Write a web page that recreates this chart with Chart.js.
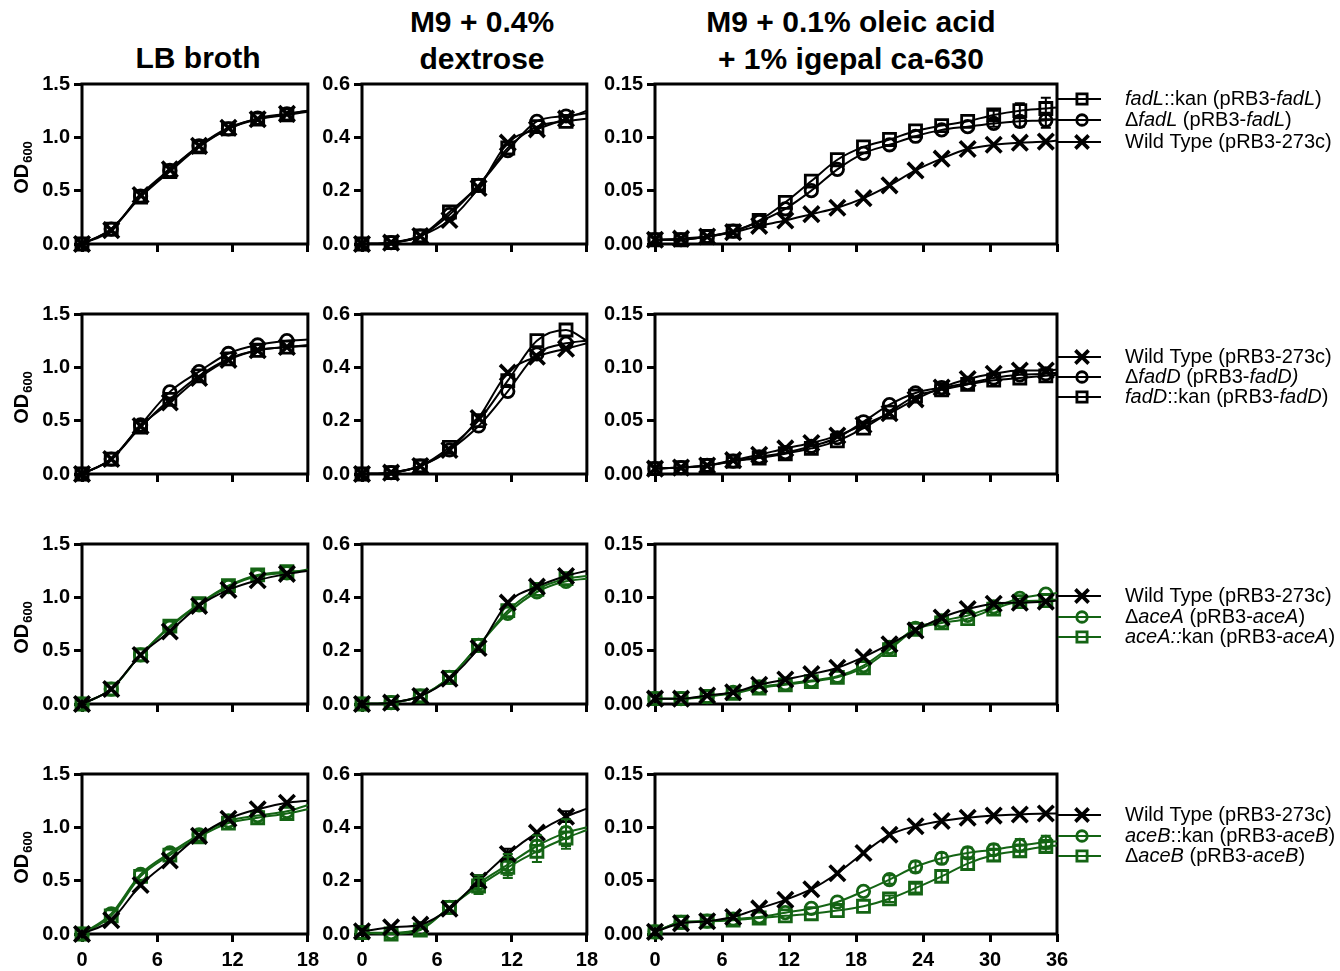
<!DOCTYPE html>
<html lang="en">
<head>
<meta charset="UTF-8">
<title>Growth curves</title>
<script src="https://cdn.jsdelivr.net/npm/chart.js"></script>
<style>
    body { margin: 0; background: #fff; width: 1340px; height: 971px; position: relative; overflow: hidden;
           font-family: "Liberation Sans", Arial, sans-serif; }
    .title { position: absolute; width: 400px; text-align: center; font-weight: bold; font-size: 30px; line-height: 37px; }
    .panel { position: absolute; }
</style>
</head>
<body>
<div class="title" style="left:-2px; top:39px">LB broth</div>
<div class="title" style="left:282px; top:3px">M9 + 0.4%<br>dextrose</div>
<div class="title" style="left:651px; top:3px">M9 + 0.1% oleic acid<br>+ 1% igepal ca-630</div>
<script>
// sampling times (h); last entry is where the fitted curve meets the right frame
const T_SHORT = [0, 2.33, 4.67, 7, 9.33, 11.67, 14, 16.33, 18];
const T_LONG = [0, 2.33, 4.67, 7, 9.33, 11.67, 14, 16.33, 18.67, 21, 23.33, 25.67, 28, 30.33, 32.67, 35, 36];

// row 1 - fadL
const FADL_KAN_LB = [0, 0.14, 0.44, 0.68, 0.91, 1.08, 1.17, 1.21, 1.24];
const FADL_DEL_LB = [0, 0.14, 0.45, 0.69, 0.92, 1.08, 1.18, 1.22, 1.25];
const FADL_WT_LB  = [0, 0.13, 0.46, 0.70, 0.92, 1.09, 1.17, 1.22, 1.25];
const FADL_KAN_M9 = [0, 0.005, 0.03, 0.12, 0.22, 0.36, 0.44, 0.46, 0.47];
const FADL_DEL_M9 = [0, 0.005, 0.03, 0.11, 0.22, 0.35, 0.46, 0.48, 0.49];
const FADL_WT_M9  = [0, 0.005, 0.03, 0.09, 0.21, 0.38, 0.43, 0.47, 0.50];
const FADL_KAN_OL = [0.004, 0.004, 0.007, 0.012, 0.022, 0.039, 0.059, 0.079, 0.091, 0.098, 0.106, 0.111, 0.115, 0.121, 0.125, 0.127, 0.128];
const FADL_DEL_OL = [0.004, 0.004, 0.007, 0.012, 0.021, 0.033, 0.050, 0.070, 0.085, 0.093, 0.101, 0.107, 0.110, 0.113, 0.115, 0.116, 0.117];
const FADL_WT_OL  = [0.004, 0.005, 0.007, 0.011, 0.017, 0.022, 0.028, 0.034, 0.043, 0.055, 0.069, 0.080, 0.089, 0.093, 0.095, 0.096, 0.097];
const FADL_KAN_OL_ERR = [0, 0, 0, 0, 0, 0, 0, 0, 0, 0, 0, 0, 0, 0.004, 0.007, 0.010, 0];
const FADL_DEL_OL_ERR = [0, 0, 0, 0, 0, 0, 0, 0, 0, 0, 0, 0, 0, 0.003, 0.005, 0.007, 0];

// row 2 - fadD
const FADD_WT_LB  = [0, 0.14, 0.45, 0.67, 0.90, 1.07, 1.16, 1.19, 1.21];
const FADD_DEL_LB = [0, 0.14, 0.46, 0.77, 0.96, 1.13, 1.21, 1.25, 1.26];
const FADD_KAN_LB = [0, 0.14, 0.44, 0.70, 0.92, 1.08, 1.16, 1.19, 1.20];
const FADD_WT_M9  = [0, 0.005, 0.03, 0.09, 0.21, 0.38, 0.44, 0.47, 0.49];
const FADD_DEL_M9 = [0, 0.005, 0.03, 0.09, 0.18, 0.31, 0.45, 0.49, 0.50];
const FADD_KAN_M9 = [0, 0.005, 0.03, 0.10, 0.20, 0.35, 0.50, 0.54, 0.50];
const FADD_WT_OL  = [0.005, 0.006, 0.008, 0.013, 0.018, 0.024, 0.029, 0.036, 0.046, 0.057, 0.070, 0.081, 0.089, 0.094, 0.097, 0.097, 0.098];
const FADD_DEL_OL = [0.005, 0.006, 0.008, 0.012, 0.016, 0.020, 0.026, 0.034, 0.049, 0.065, 0.076, 0.081, 0.085, 0.090, 0.093, 0.094, 0.095];
const FADD_KAN_OL = [0.005, 0.006, 0.008, 0.012, 0.015, 0.019, 0.024, 0.031, 0.043, 0.058, 0.073, 0.079, 0.084, 0.088, 0.090, 0.092, 0.093];

// row 3 - aceA
const ACEA_WT_LB  = [0, 0.14, 0.46, 0.68, 0.92, 1.07, 1.16, 1.22, 1.25];
const ACEA_DEL_LB = [0, 0.14, 0.46, 0.72, 0.93, 1.10, 1.20, 1.23, 1.26];
const ACEA_KAN_LB = [0, 0.14, 0.46, 0.73, 0.94, 1.11, 1.21, 1.24, 1.25];
const ACEA_WT_M9  = [0, 0.005, 0.03, 0.095, 0.21, 0.38, 0.44, 0.48, 0.50];
const ACEA_DEL_M9 = [0, 0.005, 0.03, 0.10, 0.22, 0.34, 0.42, 0.46, 0.47];
const ACEA_KAN_M9 = [0, 0.005, 0.03, 0.10, 0.22, 0.35, 0.43, 0.47, 0.48];
const ACEA_WT_OL  = [0.005, 0.005, 0.008, 0.011, 0.018, 0.023, 0.028, 0.034, 0.044, 0.056, 0.069, 0.081, 0.089, 0.094, 0.095, 0.096, 0.097];
const ACEA_DEL_OL = [0.005, 0.005, 0.007, 0.011, 0.016, 0.019, 0.022, 0.026, 0.036, 0.053, 0.071, 0.078, 0.083, 0.091, 0.099, 0.103, 0.104];
const ACEA_KAN_OL = [0.005, 0.005, 0.007, 0.010, 0.015, 0.018, 0.021, 0.025, 0.034, 0.051, 0.070, 0.076, 0.080, 0.089, 0.096, 0.097, 0.098];

// row 4 - aceB
const ACEB_WT_LB  = [0, 0.13, 0.46, 0.69, 0.92, 1.08, 1.17, 1.23, 1.25];
const ACEB_KAN_LB = [0, 0.19, 0.56, 0.76, 0.93, 1.06, 1.11, 1.15, 1.21];
const ACEB_DEL_LB = [0, 0.17, 0.54, 0.74, 0.91, 1.04, 1.09, 1.13, 1.17];
const ACEB_WT_M9  = [0.01, 0.025, 0.035, 0.095, 0.20, 0.30, 0.38, 0.44, 0.47];
const ACEB_KAN_M9 = [0.005, 0.005, 0.02, 0.10, 0.19, 0.26, 0.33, 0.38, 0.40];
const ACEB_DEL_M9 = [0.005, 0.0, 0.015, 0.10, 0.18, 0.25, 0.31, 0.36, 0.39];
const ACEB_WT_M9_ERR  = [0, 0, 0, 0, 0.02, 0.02, 0, 0.02, 0];
const ACEB_KAN_M9_ERR = [0, 0, 0, 0, 0.03, 0.04, 0.04, 0.05, 0];
const ACEB_DEL_M9_ERR = [0, 0, 0, 0, 0.03, 0.04, 0.04, 0.04, 0];
const ACEB_WT_OL  = [0.002, 0.010, 0.012, 0.016, 0.024, 0.032, 0.042, 0.057, 0.076, 0.093, 0.101, 0.106, 0.109, 0.111, 0.112, 0.113, 0.113];
const ACEB_KAN_OL = [0.002, 0.011, 0.012, 0.014, 0.016, 0.020, 0.024, 0.030, 0.040, 0.051, 0.063, 0.071, 0.076, 0.079, 0.083, 0.086, 0.087];
const ACEB_DEL_OL = [0.002, 0.011, 0.012, 0.013, 0.015, 0.017, 0.019, 0.022, 0.026, 0.033, 0.043, 0.054, 0.066, 0.074, 0.078, 0.082, 0.083];
const ACEB_KAN_OL_ERR = [0, 0, 0, 0, 0, 0, 0, 0, 0, 0.004, 0.005, 0.005, 0.005, 0.005, 0.006, 0.006, 0];
const ACEB_DEL_OL_ERR = [0, 0, 0, 0, 0, 0, 0, 0, 0, 0.003, 0.004, 0.005, 0.005, 0.005, 0.005, 0.005, 0];

const BLACK = '#000';
const GREEN = '#146414';

// *text* = italic
const ROWS = [
    [
        { label: '*fadL*::kan (pRB3-*fadL*)', mark: 'square', color: BLACK, data: [FADL_KAN_LB, FADL_KAN_M9, FADL_KAN_OL], err: [null, null, FADL_KAN_OL_ERR] },
        { label: 'Δ*fadL* (pRB3-*fadL*)', mark: 'circle', color: BLACK, data: [FADL_DEL_LB, FADL_DEL_M9, FADL_DEL_OL], err: [null, null, FADL_DEL_OL_ERR] },
        { label: 'Wild Type (pRB3-273c)', mark: 'cross', color: BLACK, data: [FADL_WT_LB, FADL_WT_M9, FADL_WT_OL], err: [] }
    ],
    [
        { label: 'Wild Type (pRB3-273c)', mark: 'cross', color: BLACK, data: [FADD_WT_LB, FADD_WT_M9, FADD_WT_OL], err: [] },
        { label: 'Δ*fadD* (pRB3-*fadD)*', mark: 'circle', color: BLACK, data: [FADD_DEL_LB, FADD_DEL_M9, FADD_DEL_OL], err: [] },
        { label: '*fadD*::kan (pRB3-*fadD*)', mark: 'square', color: BLACK, data: [FADD_KAN_LB, FADD_KAN_M9, FADD_KAN_OL], err: [] }
    ],
    [
        { label: 'Wild Type (pRB3-273c)', mark: 'cross', color: BLACK, data: [ACEA_WT_LB, ACEA_WT_M9, ACEA_WT_OL], err: [] },
        { label: 'Δ*aceA* (pRB3-*aceA*)', mark: 'circle', color: GREEN, data: [ACEA_DEL_LB, ACEA_DEL_M9, ACEA_DEL_OL], err: [] },
        { label: '*aceA::*kan (pRB3-*aceA*)', mark: 'square', color: GREEN, data: [ACEA_KAN_LB, ACEA_KAN_M9, ACEA_KAN_OL], err: [] }
    ],
    [
        { label: 'Wild Type (pRB3-273c)', mark: 'cross', color: BLACK, data: [ACEB_WT_LB, ACEB_WT_M9, ACEB_WT_OL], err: [null, ACEB_WT_M9_ERR, null] },
        { label: '*aceB*::kan (pRB3-*aceB*)', mark: 'circle', color: GREEN, data: [ACEB_KAN_LB, ACEB_KAN_M9, ACEB_KAN_OL], err: [null, ACEB_KAN_M9_ERR, ACEB_KAN_OL_ERR] },
        { label: 'Δ*aceB* (pRB3-*aceB*)', mark: 'square', color: GREEN, data: [ACEB_DEL_LB, ACEB_DEL_M9, ACEB_DEL_OL], err: [null, ACEB_DEL_M9_ERR, ACEB_DEL_OL_ERR] }
    ]
];

// layout
const COLS = [
    { L: 82, R: 313, yw: 82, pr: 12, xmax: 18, ymax: 1.5, step: 0.5, dec: 1, t: T_SHORT },
    { L: 362, R: 592, yw: 50, pr: 12, xmax: 18, ymax: 0.6, step: 0.2, dec: 1, t: T_SHORT },
    { L: 655, R: 1057, yw: 62, pr: 283, xmax: 36, ymax: 0.15, step: 0.05, dec: 2, t: T_LONG }
];
const ROW_TOP = [82, 312, 542, 772];
const LEGEND_DY = [[15, 36, 58], [43, 63, 83], [52, 73, 93], [41, 62, 82]];
const PLOT_H = 162, PAD_T = 14, XH = 42;
const MARK = {
    square: { style: 'rect', r: 8.5, w: 2.8 },
    circle: { style: 'circle', r: 6.2, w: 2.8 },
    cross:  { style: 'crossRot', r: 11, w: 3.6 }
};
const FONT = '"Liberation Sans", Arial, sans-serif';

function drawMarker(ctx, mark, x, y, scale) {
    const m = MARK[mark], r = m.r * scale;
    ctx.beginPath();
    if (mark === 'square') {
        const s = r * Math.SQRT1_2;
        ctx.rect(x - s, y - s, 2 * s, 2 * s);
    } else if (mark === 'circle') {
        ctx.arc(x, y, r, 0, Math.PI * 2);
    } else {
        const d = r * Math.SQRT1_2;
        ctx.moveTo(x - d, y - d); ctx.lineTo(x + d, y + d);
        ctx.moveTo(x - d, y + d); ctx.lineTo(x + d, y - d);
    }
    ctx.lineWidth = m.w;
    ctx.stroke();
}

const framePlugin = {
    id: 'frame',
    beforeDatasetsDraw(c) {
        const a = c.chartArea, ctx = c.ctx;
        ctx.save();
        ctx.lineWidth = 3;
        ctx.strokeStyle = '#000';
        ctx.strokeRect(a.left, a.top, a.right - a.left, a.bottom - a.top);
        ctx.restore();
    }
};

const errorPlugin = {
    id: 'errbars',
    afterDatasetsDraw(c) {
        const ctx = c.ctx, ys = c.scales.y;
        c.data.datasets.forEach((ds, di) => {
            if (!ds.err) return;
            const meta = c.getDatasetMeta(di);
            ctx.save();
            ctx.strokeStyle = ds.borderColor;
            ctx.lineWidth = 2;
            ds.err.forEach((e, i) => {
                if (!e) return;
                const p = meta.data[i], v = ds.data[i].y;
                const y1 = ys.getPixelForValue(v + e), y2 = ys.getPixelForValue(Math.max(0, v - e));
                ctx.beginPath();
                ctx.moveTo(p.x, y1); ctx.lineTo(p.x, y2);
                ctx.moveTo(p.x - 5, y1); ctx.lineTo(p.x + 5, y1);
                ctx.moveTo(p.x - 5, y2); ctx.lineTo(p.x + 5, y2);
                ctx.stroke();
            });
            ctx.restore();
        });
    }
};

function odTitle() {
    return {
        id: 'odTitle',
        afterDraw(c) {
            const ctx = c.ctx, a = c.chartArea;
            ctx.save();
            ctx.translate(22, (a.top + a.bottom) / 2 + 4);
            ctx.rotate(-Math.PI / 2);
            ctx.fillStyle = '#000';
            ctx.textBaseline = 'middle';
            ctx.font = 'bold 20px ' + FONT;
            const w1 = ctx.measureText('OD').width;
            ctx.font = 'bold 13px ' + FONT;
            const w2 = ctx.measureText('600').width;
            const x0 = -(w1 + w2) / 2;
            ctx.font = 'bold 20px ' + FONT;
            ctx.fillText('OD', x0, 0);
            ctx.font = 'bold 13px ' + FONT;
            ctx.fillText('600', x0 + w1 + 1, 6);
            ctx.restore();
        }
    };
}

function legendPlugin(series, dys) {
    return {
        id: 'sideLegend',
        afterDraw(c) {
            const ctx = c.ctx, a = c.chartArea;
            ctx.save();
            series.forEach((s, k) => {
                const y = a.top + dys[k];
                ctx.strokeStyle = s.color;
                ctx.lineWidth = 2;
                ctx.beginPath();
                ctx.moveTo(a.right + 1, y); ctx.lineTo(a.right + 44, y);
                ctx.stroke();
                drawMarker(ctx, s.mark, a.right + 25, y, 0.85);
                let x = a.right + 68;
                ctx.fillStyle = '#000';
                ctx.textBaseline = 'middle';
                s.label.split('*').forEach((part, i) => {
                    if (!part) return;
                    ctx.font = (i % 2 ? 'italic ' : '') + '20px ' + FONT;
                    ctx.fillText(part, x, y);
                    x += ctx.measureText(part).width;
                });
            });
            ctx.restore();
        }
    };
}

ROWS.forEach((series, ri) => {
    COLS.forEach((col, ci) => {
        const top = ROW_TOP[ri] - PAD_T;
        const w = col.yw + (col.R - col.L) + col.pr;
        const h = PAD_T + PLOT_H + XH;
        const div = document.createElement('div');
        div.className = 'panel';
        div.style.left = (col.L - col.yw) + 'px';
        div.style.top = top + 'px';
        div.style.width = w + 'px';
        div.style.height = h + 'px';
        const cv = document.createElement('canvas');
        div.appendChild(cv);
        document.body.appendChild(div);

        const last = col.t.length - 1;
        const datasets = series.map(s => {
            const m = MARK[s.mark];
            return {
                label: s.label.replace(/\*/g, ''),
                data: s.data[ci].map((v, i) => ({ x: col.t[i], y: v })),
                err: s.err[ci] || null,
                borderColor: s.color,
                borderWidth: 2,
                pointStyle: m.style,
                pointRadius: ctx => ctx.dataIndex === last ? 0 : m.r,
                pointBorderWidth: m.w,
                pointBorderColor: s.color,
                pointBackgroundColor: 'rgba(0,0,0,0)',
                cubicInterpolationMode: 'monotone',
                clip: false
            };
        });

        const plugins = [framePlugin, errorPlugin];
        if (ci === 0) plugins.push(odTitle());
        if (ci === 2) plugins.push(legendPlugin(series, LEGEND_DY[ri]));

        new Chart(cv, {
            type: 'line',
            data: { datasets },
            plugins,
            options: {
                responsive: true,
                maintainAspectRatio: false,
                animation: false,
                events: [],
                layout: { autoPadding: false, padding: { top: PAD_T, right: col.pr, left: 0, bottom: 0 } },
                plugins: { legend: { display: false }, tooltip: { enabled: false } },
                scales: {
                    x: {
                        type: 'linear', min: 0, max: col.xmax,
                        afterFit: s => { s.height = XH; },
                        ticks: {
                            stepSize: 6, padding: 6,
                            color: ri === 3 ? '#000' : 'rgba(0,0,0,0)',
                            font: { family: FONT, size: 20, weight: 'bold' },
                            maxRotation: 0
                        },
                        grid: { drawOnChartArea: false, drawTicks: true, tickLength: 8, lineWidth: 3, color: '#000' },
                        border: { display: false }
                    },
                    y: {
                        min: 0, max: col.ymax,
                        afterFit: s => { s.width = col.yw; },
                        ticks: {
                            stepSize: col.step, padding: 4, color: '#000',
                            callback: v => Number(v).toFixed(col.dec),
                            font: { family: FONT, size: 20, weight: 'bold' }
                        },
                        grid: { drawOnChartArea: false, drawTicks: true, tickLength: 8, lineWidth: 3, color: '#000' },
                        border: { display: false }
                    }
                }
            }
        });
    });
});
</script>
</body>
</html>
